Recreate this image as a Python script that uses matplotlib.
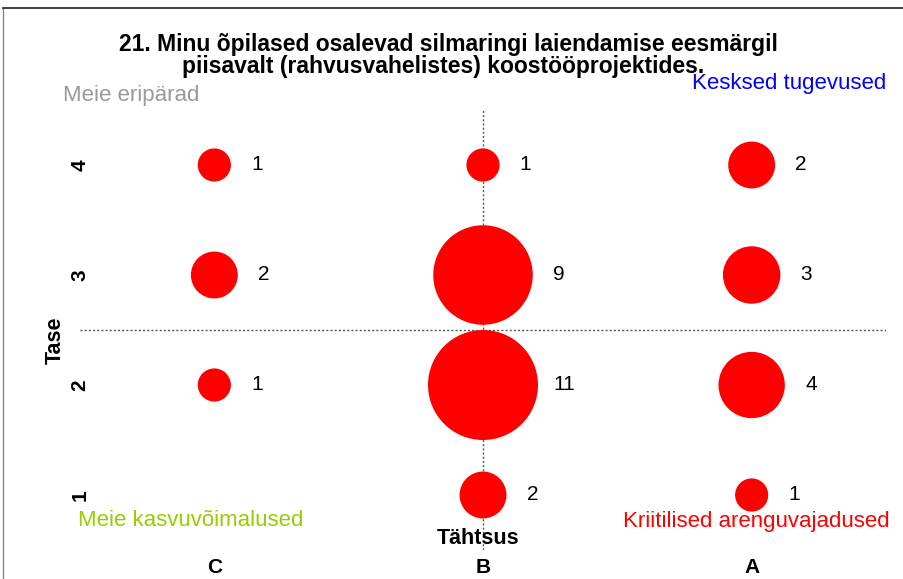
import numpy as np
import matplotlib.pyplot as plt

plt.rcParams['font.family'] = ['Liberation Sans', 'DejaVu Sans']

# data
categories = ['C', 'B', 'A']          # Tähtsus
levels = [1, 2, 3, 4]                 # Tase
counts = {
    'C': [0, 1, 2, 1],
    'B': [2, 11, 9, 1],
    'A': [1, 4, 3, 2],
}
title_lines = ["21. Minu õpilased osalevad silmaringi laiendamise eesmärgil",
               "piisavalt (rahvusvahelistes) koostööprojektides."]

DPI = 100
fig = plt.figure(figsize=(9.04, 5.79), dpi=DPI)
W, H = 904, 579
ax = fig.add_axes([80 / W, 1 - 550 / H, (886 - 80) / W, 440 / H])

# px radius for 11 is ~55 -> area scaling
r_max_pt = 55 * 72 / DPI
s_per_unit = (2 * r_max_pt) ** 2 / 11

ax.axhline(2.5, color='#555555', lw=1, ls=(0, (1.5, 1.5)), zorder=1)
ax.axvline(2, color='#555555', lw=1, ls=(0, (1.5, 1.5)), zorder=1)

for i, cat in enumerate(categories):
    xs = i + 1
    for lev, v in zip(levels, counts[cat]):
        if v <= 0:
            continue
        ax.scatter(xs, lev, s=v * s_per_unit, color='red', edgecolors='none', zorder=3)
        r_px = np.sqrt(v * s_per_unit) / 2 * DPI / 72
        ax.annotate(str(v), (xs, lev), xytext=((r_px + 26) * 72 / DPI, 0),
                    textcoords='offset points', va='center', ha='center',
                    fontsize=15)

ax.set_xlim(0.5, 3.5)
ax.set_ylim(0.5, 4.5)
ax.set_xticks([1, 2, 3])
ax.set_xticklabels(categories, fontsize=15, fontweight='bold')
ax.set_yticks(levels)
ax.set_yticklabels([str(l) for l in levels], fontsize=15, fontweight='bold',
                   rotation=90, va='center')
ax.tick_params(axis='x', length=0, pad=6)
ax.tick_params(axis='y', length=0, pad=-7)
for s in ax.spines.values():
    s.set_visible(False)

fig.text(55 / W, 1 - 340 / H, 'Tase', rotation=90, fontsize=15.5, fontweight='bold',
         ha='center', va='center')
fig.text(478 / W, 1 - 538 / H, 'Tähtsus', fontsize=15.5, fontweight='bold',
         ha='center', va='center')

fig.text(448 / W, 1 - 45 / H, title_lines[0], fontsize=16.5, fontweight='bold',
         ha='center', va='center')
fig.text(443 / W, 1 - 67 / H, title_lines[1], fontsize=16.5, fontweight='bold',
         ha='center', va='center')

fig.text(63 / W, 1 - 96 / H, 'Meie eripärad', color='#999999', fontsize=16,
         ha='left', va='center')
fig.text(886 / W, 1 - 84 / H, 'Kesksed tugevused', color='#0000ff', fontsize=16,
         ha='right', va='center')
fig.text(78 / W, 1 - 521 / H, 'Meie kasvuvõimalused', color='#99cc00', fontsize=16,
         ha='left', va='center')
fig.text(890 / W, 1 - 521 / H, 'Kriitilised arenguvajadused', color='#ff0000', fontsize=16,
         ha='right', va='center')

# frame edges visible in the original crop
fig.add_artist(plt.Line2D([3 / W, 3 / W], [0, 1 - 8 / H], color='#888888', lw=1))
fig.add_artist(plt.Line2D([3 / W, 1], [1 - 8 / H, 1 - 8 / H], color='#222222', lw=1.2))

fig.savefig('out.png', dpi=DPI)
